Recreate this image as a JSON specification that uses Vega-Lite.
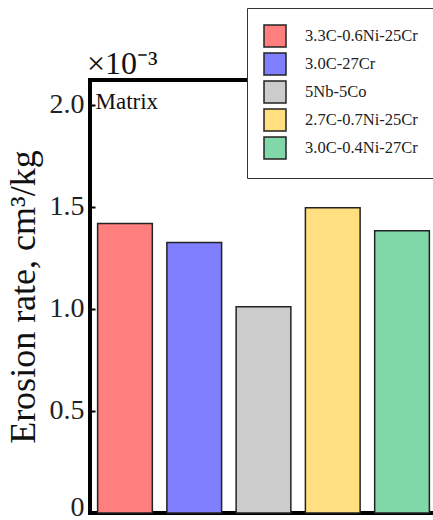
{
  "$schema": "https://vega.github.io/schema/vega-lite/v6.json",
  "autosize": "none",
  "padding": {"left": 90, "top": 80, "right": 0, "bottom": 7},
  "width": 347,
  "height": 433,
  "title": {
    "text": "×10⁻³",
    "anchor": "start",
    "frame": "group",
    "font": "Liberation Serif",
    "fontSize": 32,
    "fontWeight": "normal",
    "color": "#111",
    "offset": 3,
    "dx": -3,
    "dy": 76
  },
  "data": {
    "values": [
      {"sample": "3.3C-0.6Ni-25Cr", "rate": 1.417},
      {"sample": "3.0C-27Cr", "rate": 1.324},
      {"sample": "5Nb-5Co", "rate": 1.01},
      {"sample": "2.7C-0.7Ni-25Cr", "rate": 1.495},
      {"sample": "3.0C-0.4Ni-27Cr", "rate": 1.382}
    ]
  },
  "mark": {"type": "bar", "stroke": "#222", "strokeWidth": 1.5},
  "encoding": {
    "x": {
      "field": "sample",
      "type": "nominal",
      "sort": null,
      "scale": {"paddingInner": 0.21, "paddingOuter": 0.11},
      "axis": {
        "orient": "top",
        "title": "Matrix",
        "labels": false,
        "ticks": false,
        "domain": false,
        "titleFont": "Liberation Serif",
        "titleFontSize": 23,
        "titleFontWeight": "normal",
        "titleColor": "#111",
        "titleX": 5,
        "titleY": 10,
        "titleAlign": "left",
        "titleBaseline": "top"
      }
    },
    "y": {
      "field": "rate",
      "type": "quantitative",
      "scale": {"domain": [0, 2.12], "nice": false},
      "axis": {
        "values": [0, 0.5, 1, 1.5, 2],
        "labelExpr": "datum.value == 0 ? '0' : format(datum.value, '.1f')",
        "title": "Erosion rate, cm³/kg",
        "titleFont": "Liberation Serif",
        "titleFontSize": 36,
        "titleFontWeight": "normal",
        "titleColor": "#111",
        "titlePadding": 7,
        "labelFont": "Liberation Serif",
        "labelFontSize": 28,
        "labelColor": "#222",
        "labelPadding": 11,
        "labelFlush": true,
        "labelFlushOffset": 8,
        "tickSize": -5,
        "tickWidth": 2,
        "tickColor": "#000",
        "domain": false,
        "grid": false
      }
    },
    "color": {
      "field": "sample",
      "type": "nominal",
      "scale": {
        "domain": ["3.3C-0.6Ni-25Cr", "3.0C-27Cr", "5Nb-5Co", "2.7C-0.7Ni-25Cr", "3.0C-0.4Ni-27Cr"],
        "range": ["#FF7F7F", "#7F7FFF", "#CCCCCC", "#FFDF80", "#80D8A8"]
      },
      "legend": {
        "title": null,
        "orient": "none",
        "legendX": 157,
        "legendY": -72,
        "symbolType": "square",
        "symbolSize": 484,
        "symbolOpacity": 1,
        "labelFont": "Liberation Serif",
        "labelFontSize": 16.5,
        "labelColor": "#222",
        "labelOffset": 18,
        "labelLimit": 300,
        "rowPadding": 0,
        "padding": 16,
        "strokeColor": "#333",
        "fillColor": "white",
        "encode": {
          "symbols": {
            "update": {
              "fill": {"signal": "datum.value === '3.0C-27Cr' ? '#7FB3E0' : scale('color', datum.value)"},
              "stroke": {"value": "#333"},
              "strokeWidth": {"value": 1.5}
            }
          }
        }
      }
    }
  },
  "config": {
    "view": {"stroke": "#000", "strokeWidth": 4}
  }
}
